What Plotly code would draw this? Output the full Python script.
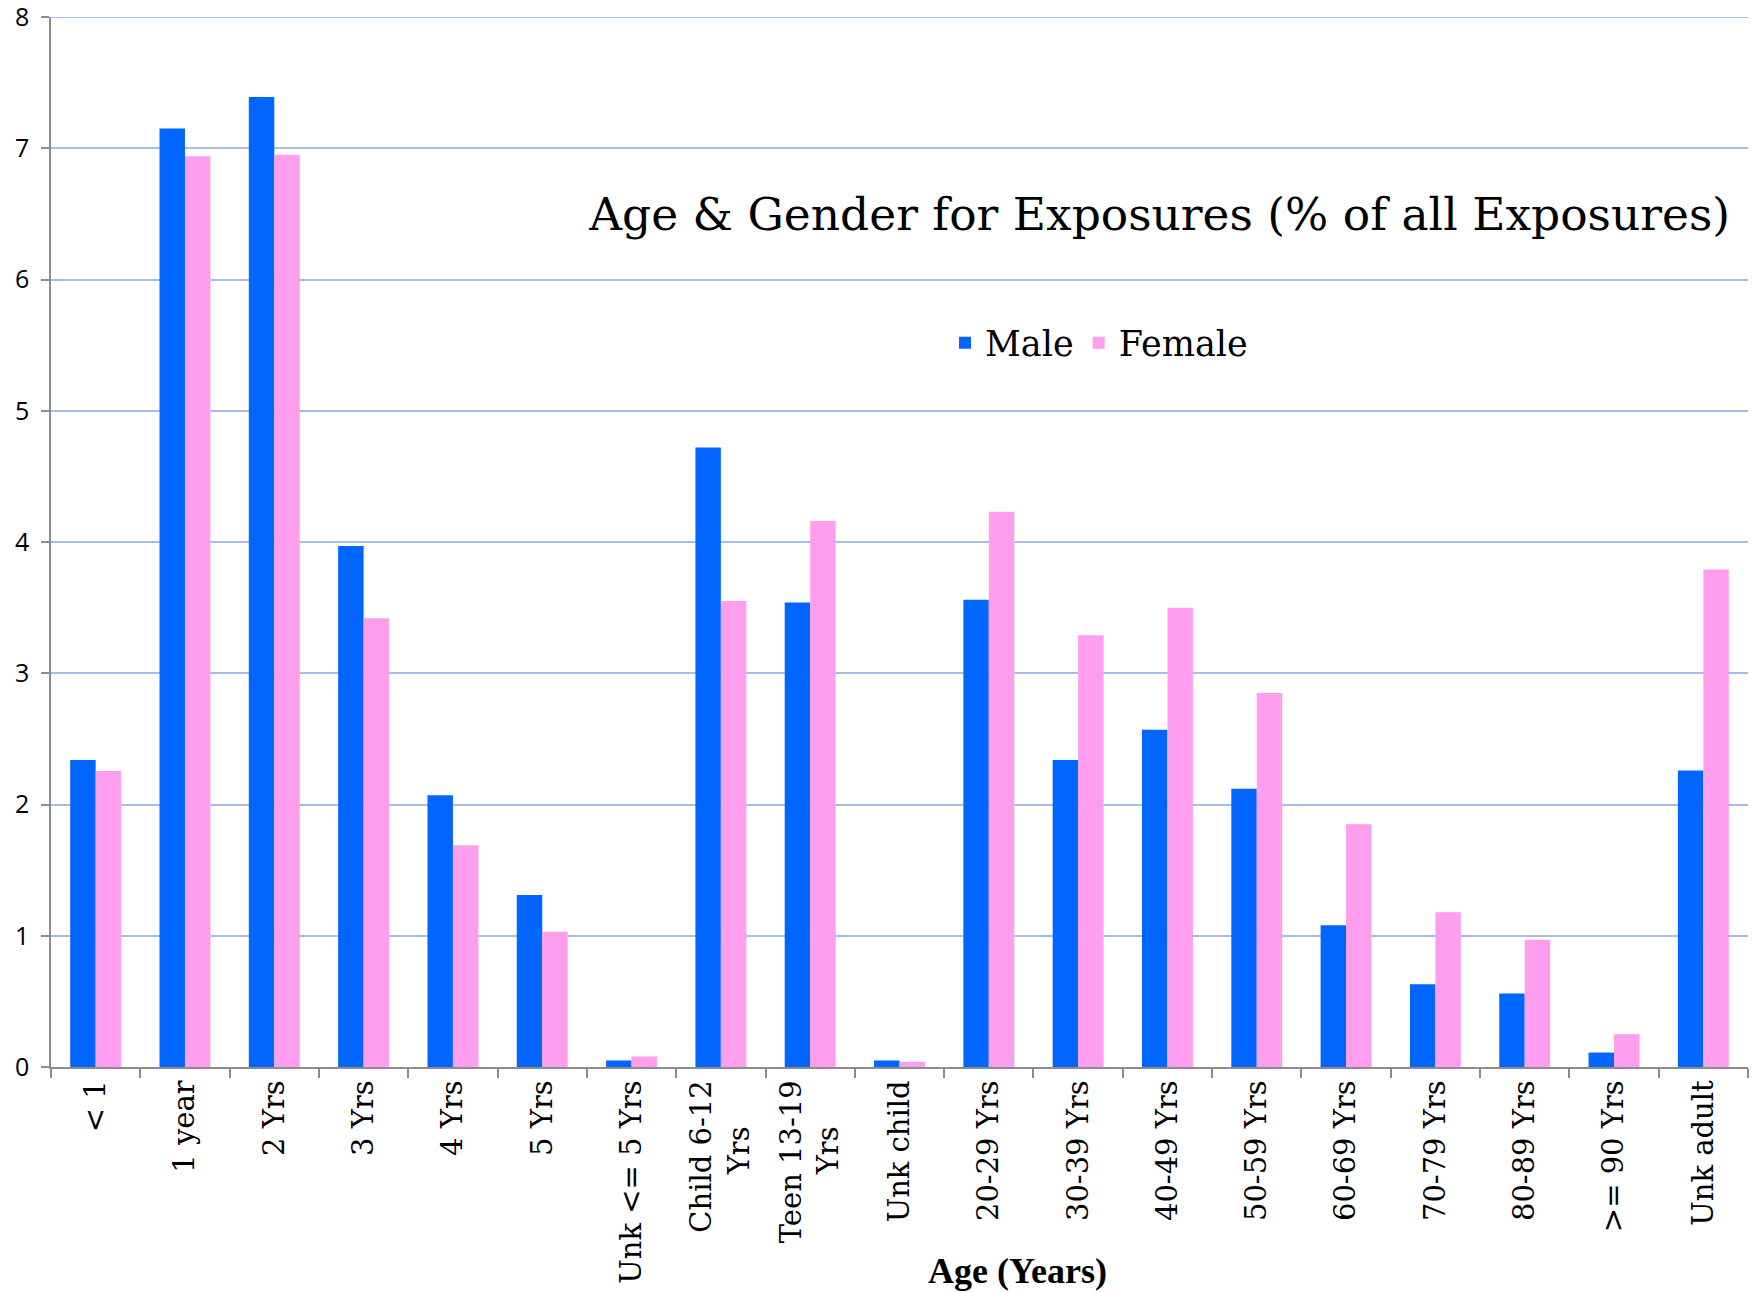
import plotly.graph_objects as go

NB = "\u00a0" * 5
categories = ["< 1", "1 year", "2 Yrs", "3 Yrs", "4 Yrs", "5 Yrs", "Unk <= 5 Yrs",
              "Child 6-12<br>Yrs" + NB, "Teen 13-19<br>Yrs" + NB, "Unk child", "20-29 Yrs",
              "30-39 Yrs", "40-49 Yrs", "50-59 Yrs", "60-69 Yrs", "70-79 Yrs",
              "80-89 Yrs", ">= 90 Yrs", "Unk adult"]
male = [2.34, 7.15, 7.39, 3.97, 2.07, 1.31, 0.05, 4.72, 3.54, 0.05, 3.56,
        2.34, 2.57, 2.12, 1.08, 0.63, 0.56, 0.11, 2.26]
female = [2.255, 6.94, 6.95, 3.42, 1.69, 1.03, 0.08, 3.55, 4.16, 0.04, 4.23,
          3.29, 3.50, 2.85, 1.85, 1.18, 0.97, 0.25, 3.79]
y_ticks = [0, 1, 2, 3, 4, 5, 6, 7, 8]

W, H = 1752, 1293
L, R, T, B = 51, 4, 17, 226
pw, ph = W - L - R, H - T - B
GRID = "#A6BDE8"

fig = go.Figure()
fig.add_trace(go.Bar(x=categories, y=male, name="Male",
                     marker=dict(color="#0066FF", line=dict(width=0))))
fig.add_trace(go.Bar(x=categories, y=female, name="Female",
                     marker=dict(color="#FF9EEE", line=dict(width=0))))

fig.update_layout(
    width=W, height=H,
    margin=dict(l=L, r=R, t=T, b=B, pad=0, autoexpand=False),
    paper_bgcolor="white", plot_bgcolor="white",
    barmode="group", bargap=0.43, bargroupgap=0,
    title=dict(text="Age & Gender for Exposures (% of all Exposures)",
               font=dict(family="DejaVu Serif", size=45.5, color="black"),
               x=1730 / W, xanchor="right", xref="container",
               y=1 - 214 / H, yanchor="middle", yref="container"),
    legend=dict(orientation="h", x=(945 - L) / pw, xanchor="left",
                y=(H - B - 343) / ph, yanchor="middle",
                font=dict(family="DejaVu Serif", size=35, color="black"),
                bgcolor="rgba(0,0,0,0)", itemsizing="constant",
                traceorder="normal"),
    showlegend=True,
    xaxis=dict(showline=True, linecolor="#8C8C8C", linewidth=1.5,
               ticks="outside", tickson="boundaries", ticklen=9,
               tickcolor="#8C8C8C", tickwidth=1.5, automargin=False,
               tickangle=-90, showgrid=False,
               tickfont=dict(family="DejaVu Serif", size=29, color="black")),
    yaxis=dict(range=[0, 8], tickvals=y_ticks, showline=True,
               linecolor="#8C8C8C", linewidth=1.5, ticks="outside", ticklen=8,
               tickcolor="#8C8C8C", tickwidth=1.5, showgrid=True,
               gridcolor=GRID, gridwidth=1.5, zeroline=False, automargin=False,
               ticklabelstandoff=7, ticklabeloverflow="allow",
               tickfont=dict(family="Open Sans", size=25, color="black")),
    shapes=[dict(type="line", xref="paper", yref="y", x0=0, x1=1,
                 y0=y_ticks[-1], y1=y_ticks[-1],
                 line=dict(color=GRID, width=2), layer="below")],
    annotations=[dict(text="<b>Age (Years)</b>", xref="paper", yref="paper",
                      x=(1017 - L) / pw, y=(H - B - 1271) / ph,
                      xanchor="center", yanchor="middle", showarrow=False,
                      font=dict(family="Liberation Serif", size=36, color="black"))],
)

fig.write_html("out.html")
